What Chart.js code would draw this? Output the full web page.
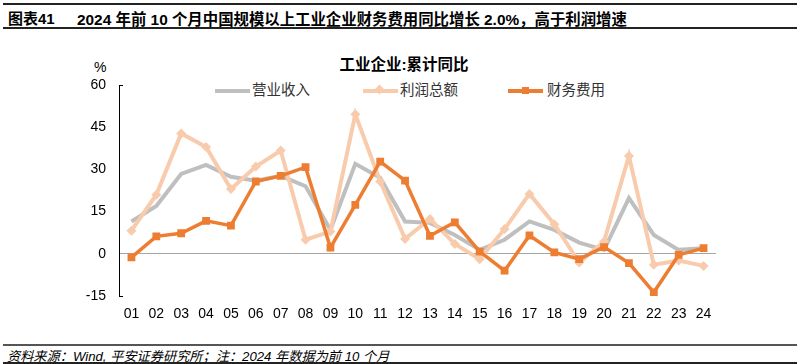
<!DOCTYPE html>
<html>
<head>
<meta charset="utf-8">
<script src="https://cdn.jsdelivr.net/npm/chart.js@4"></script>
<style>
  body { margin: 0; background: #fff; font-family: "Liberation Sans", "Noto Sans CJK SC", sans-serif; }
  #wrap { position: relative; width: 800px; height: 364px; overflow: hidden; }
  .rule { position: absolute; left: 3px; right: 3px; }
  .txt { position: absolute; white-space: nowrap; color: #000; }
  #chartBox { position: absolute; left: 0; top: 40px; width: 800px; height: 290px; }
  .leg { position: absolute; top: 82px; width: 110px; height: 18px; font-size: 14.5px; line-height: 16px; color: #333; white-space: nowrap; }
  .leg i { position: absolute; top: 7px; width: 35px; height: 4px; }
  .leg b { position: absolute; }
</style>
</head>
<body>
<div id="wrap">
  <div class="rule" style="top:3px;height:2px;background:#222"></div>
  <div class="txt" style="left:8px;top:7px;font-size:15px;font-weight:bold">图表41</div>
  <div class="txt" style="left:77px;top:7px;font-size:15.4px;font-weight:bold">2024 年前 10 个月中国规模以上工业企业财务费用同比增长 2.0%，高于利润增速</div>
  <div class="rule" style="top:27px;height:2px;background:#222"></div>

  <div class="txt" style="left:0;width:808px;text-align:center;top:52px;font-size:15.5px;font-weight:bold">工业企业:累计同比</div>
  <div class="txt" style="left:94px;top:59px;font-size:14px">%</div>

  <div class="leg" style="left:215px"><i style="left:0;background:#BFBFBF"></i><span style="position:absolute;left:37px">营业收入</span></div>
  <div class="leg" style="left:363px"><i style="left:0;background:#F8CBAD"></i><b style="left:13px;top:4px;width:7px;height:7px;background:#F8CBAD;transform:rotate(45deg)"></b><span style="position:absolute;left:37px">利润总额</span></div>
  <div class="leg" style="left:508px"><i style="left:0;background:#ED7D31"></i><b style="left:14px;top:5px;width:7px;height:7px;background:#ED7D31"></b><span style="position:absolute;left:39px">财务费用</span></div>

  <div id="chartBox"><canvas id="chart"></canvas></div>

  <div class="rule" style="top:344px;height:2px;background:#555"></div>
  <div class="txt" style="left:7px;top:346px;font-size:13.2px;font-style:italic">资料来源：Wind, 平安证券研究所；注：2024 年数据为前 10 个月</div>
  <div class="rule" style="top:362px;height:2px;background:#222"></div>
</div>

<script>
// Categories and values
const labels = ['01', '02', '03', '04', '05', '06', '07', '08', '09', '10', '11', '12',
                '13', '14', '15', '16', '17', '18', '19', '20', '21', '22', '23', '24'];
const revenue = [11.5, 17, 28.4, 31.6, 27.4, 26, 27.7, 24, 8.5, 32, 27, 11.5,
                 11, 6.7, 1.4, 5, 11.5, 8.5, 4, 1.4, 19.8, 6.7, 1.4, 2];
const profit = [8.2, 21, 42.8, 38, 23, 31, 36.7, 5, 7.9, 49.6, 25.7, 5.3,
                12.4, 3.5, -1.9, 8.8, 21.3, 10.5, -3.1, 4.4, 34.8, -3.9, -2.4, -4.3];
const finance = [-1.3, 6.2, 7.3, 11.7, 10, 25.7, 27.7, 30.8, 2.2, 17.4, 32.8, 26,
                 6.4, 11.2, 0.8, -6, 6.5, 0.5, -1.9, 2.4, -3.3, -13.7, -0.4, 2.0];
const yTicks = [-15, 0, 15, 30, 45, 60];

const tickFont = { family: '"Liberation Sans", "Noto Sans CJK SC", sans-serif', size: 14 };

// small inward ticks at both ends of the value axis
const axisEnds = {
    id: 'axisEnds',
    afterDraw(chart) {
        const y = chart.scales.y;
        const ctx = chart.ctx;
        const x0 = chart.chartArea.left;
        ctx.save();
        ctx.strokeStyle = '#000';
        ctx.lineWidth = 1;
        ctx.beginPath();
        [yTicks[0], yTicks[yTicks.length - 1]].forEach(v => {
            const py = Math.round(y.getPixelForValue(v)) + 0.5;
            ctx.moveTo(x0, py);
            ctx.lineTo(x0 + 4, py);
        });
        ctx.stroke();
        ctx.restore();
    }
};

new Chart(document.getElementById('chart'), {
    type: 'line',
    data: {
        labels: labels,
        datasets: [{
            label: '营业收入',
            data: revenue,
            borderColor: '#BFBFBF',
            backgroundColor: '#BFBFBF',
            borderWidth: 4,
            pointRadius: 0,
            tension: 0,
            order: 3
        }, {
            label: '利润总额',
            data: profit,
            borderColor: '#F8CBAD',
            backgroundColor: '#F8CBAD',
            borderWidth: 4,
            pointStyle: 'rectRot',
            pointRadius: 5,
            pointBorderWidth: 0,
            tension: 0,
            order: 2
        }, {
            label: '财务费用',
            data: finance,
            borderColor: '#ED7D31',
            backgroundColor: '#ED7D31',
            borderWidth: 3.5,
            pointStyle: 'rect',
            pointRadius: 5.5,
            pointBorderWidth: 0,
            tension: 0,
            order: 1
        }]
    },
    options: {
        responsive: true,
        maintainAspectRatio: false,
        animation: false,
        layout: { padding: { top: 45, right: 84, bottom: 0, left: 0 } },
        plugins: {
            legend: { display: false },
            tooltip: { enabled: false }
        },
        scales: {
            x: {
                offset: true,
                grid: { display: false, drawTicks: false },
                border: { display: false },
                ticks: { color: '#000', font: tickFont, padding: 10, maxRotation: 0, autoSkip: false },
                afterFit: scale => { scale.height = 34; }
            },
            y: {
                min: -15,
                max: 60,
                afterBuildTicks: scale => { scale.ticks = yTicks.map(v => ({ value: v })); },
                grid: {
                    drawTicks: false,
                    color: ctx => ctx.tick && ctx.tick.value === 0 ? '#A6A6A6' : 'rgba(0,0,0,0)',
                    lineWidth: 1
                },
                border: { display: true, color: '#000', width: 1 },
                ticks: { color: '#000', font: tickFont, padding: 13 },
                afterFit: scale => { scale.width = 119; }
            }
        }
    },
    plugins: [axisEnds]
});
</script>
</body>
</html>
